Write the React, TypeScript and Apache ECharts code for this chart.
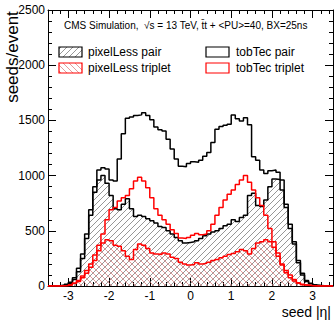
import React, { useEffect, useRef } from "react";
import * as echarts from "echarts";

// Histogram binning (70 bins of 0.1 from -3.5 to 3.5)
const BIN_LO = -3.5;
const BIN_W = 0.1;

const pixelLessPair = [
  0, 0, 2, 5, 10, 25, 60, 130, 250, 430,
  640, 850, 960, 1000, 930, 820, 700, 690, 740, 790,
  700, 630, 640, 630, 610, 590, 570, 540, 530, 500,
  470, 440, 410, 390, 395, 400, 410, 430, 455, 470,
  490, 500, 520, 545, 560, 600, 585, 620, 640, 820,
  840, 730, 720, 780, 900, 970, 965, 870, 710, 520,
  380, 210, 100, 40, 20, 10, 5, 2, 0, 0,
];

const pixelLessTriplet = [
  0, 0, 0, 2, 5, 12, 25, 40, 75, 115,
  170, 230, 320, 390, 420, 410, 370, 360, 320, 270,
  240, 330, 380, 370, 340, 300, 290, 285, 300, 290,
  260, 250, 215, 200, 190, 195, 210, 200, 205, 215,
  230, 240, 255, 270, 285, 295, 310, 330, 320, 290,
  340, 390, 400, 420, 400, 350, 270, 190, 120, 75,
  45, 25, 12, 6, 3, 0, 0, 0, 0, 0,
];

const tobTecPair = [
  0, 0, 3, 8, 15, 35, 75, 160, 290, 470,
  690, 900, 1050, 1070, 1060, 960, 950, 1150, 1380, 1520,
  1530, 1545, 1550, 1570, 1545, 1505, 1440, 1415, 1405, 1330,
  1240, 1150, 1085, 1080, 1110, 1125, 1120, 1140, 1175, 1210,
  1300, 1420, 1445, 1455, 1465, 1550, 1515, 1495, 1525, 1460,
  1170, 1140, 1050, 1020, 1045, 1050, 1030, 960, 740, 560,
  400, 230, 115, 50, 25, 12, 5, 2, 0, 0,
];

const tobTecTriplet = [
  0, 0, 0, 2, 5, 10, 25, 50, 90, 140,
  200, 280, 370, 470, 600, 690, 710, 770, 800, 820,
  880, 950, 985, 950, 890, 800, 700, 640, 600, 560,
  510, 475, 435, 430, 440, 460, 475, 465, 470, 500,
  560, 640, 710, 780, 830, 870, 920, 960, 1000, 940,
  870, 800, 730, 640, 520, 400, 300, 200, 140, 100,
  60, 30, 15, 8, 4, 2, 0, 0, 0, 0,
];

const seriesNames = ["pixelLess pair", "pixelLess triplet", "tobTec pair", "tobTec triplet"];
const headerText = "CMS Simulation,  \u221As = 13 TeV, t\u0304t + <PU>=40, BX=25ns";

const RED = "#ff0000";
const BLACK = "#000000";

function toSteps(values: number[]): [number, number][] {
  const pts: [number, number][] = values.map((v, i) => [+(BIN_LO + i * BIN_W).toFixed(2), v]);
  pts.push([+(BIN_LO + values.length * BIN_W).toFixed(2), values[values.length - 1]]);
  return pts;
}

function hatch(d: string, color: string, size: number) {
  const svg = `<svg xmlns="http://www.w3.org/2000/svg" width="${size}" height="${size}"><path d="${d}" stroke="${color}" stroke-width="0.7" fill="none"/></svg>`;
  return {
    image: "data:image/svg+xml;charset=utf-8," + encodeURIComponent(svg),
    repeat: "repeat",
    imageWidth: size,
    imageHeight: size,
  };
}

export default function App() {
  const ref = useRef<HTMLDivElement>(null);
  useEffect(() => {
    if (!ref.current) return;
    const chart = echarts.init(ref.current, undefined, { renderer: "svg" });
    const S = 6;
    const blackHatch = hatch(`M0,${S} L${S},0 M-1,1 L1,-1 M${S - 1},${S + 1} L${S + 1},${S - 1}`, "#6a6a6a", S);
    const redHatch = hatch(`M0,0 L${S},${S} M-1,${S - 1} L1,${S + 1} M${S - 1},-1 L${S + 1},1`, "#d87070", S);
    const font = "'Liberation Sans', Arial, Helvetica, sans-serif";

    const lineSeries = (name: string, data: number[], color: string) => ({
      name,
      type: "line",
      step: "end",
      data: toSteps(data),
      showSymbol: false,
      symbol: "none",
      lineStyle: { color, width: 1.5 },
      itemStyle: { color },
      silent: true,
    });
    const areaSeries = (name: string, data: number[], pattern: any) => ({
      name: name + " fill",
      type: "line",
      step: "end",
      data: toSteps(data),
      showSymbol: false,
      symbol: "none",
      lineStyle: { width: 0, opacity: 0 },
      areaStyle: { color: pattern, opacity: 1 },
      silent: true,
    });

    const xCommon = {
      type: "value",
      min: -3.5,
      max: 3.5,
      splitNumber: 7,
      splitLine: { show: false },
      axisLine: { show: true, onZero: false, lineStyle: { color: BLACK, width: 1 } },
      axisTick: { show: true, inside: true, length: 8, lineStyle: { color: BLACK } },
      minorTick: { show: true, splitNumber: 5, length: 4, lineStyle: { color: BLACK } },
    };
    const yCommon = {
      type: "value",
      min: 0,
      max: 2500,
      interval: 500,
      splitLine: { show: false },
      axisLine: { show: true, onZero: false, lineStyle: { color: BLACK, width: 1 } },
      axisTick: { show: true, inside: true, length: 8, lineStyle: { color: BLACK } },
      minorTick: { show: true, splitNumber: 5, length: 4, lineStyle: { color: BLACK } },
    };

    const legendBox = (x: number, y: number, fill: any, stroke: string) => ({
      type: "rect",
      shape: { x, y, width: 23, height: 10 },
      style: { fill, stroke, lineWidth: 1.2 },
      silent: true,
    });
    const legendText = (x: number, y: number, text: string) => ({
      type: "text",
      x,
      y,
      style: { text, fontSize: 12, fontFamily: font, fill: BLACK, textVerticalAlign: "middle", textAlign: "left" },
      silent: true,
    });

    chart.setOption({
      animation: false,
      grid: { left: 48, right: 2, top: 10, bottom: 34, containLabel: false },
      xAxis: [
        {
          ...xCommon,
          position: "bottom",
          axisLabel: {
            show: true,
            fontSize: 12,
            fontFamily: font,
            color: BLACK,
            margin: 4,
            showMinLabel: false,
            showMaxLabel: false,
            formatter: (v: number) => String(v),
          },
        },
        { ...xCommon, position: "top", axisLabel: { show: false } },
      ],
      yAxis: [
        {
          ...yCommon,
          position: "left",
          axisLabel: {
            show: true,
            fontSize: 12,
            fontFamily: font,
            color: BLACK,
            margin: 3,
            formatter: (v: number) => String(v),
          },
        },
        { ...yCommon, position: "right", axisLabel: { show: false } },
      ],
      series: [
        areaSeries(seriesNames[1], pixelLessTriplet, redHatch),
        areaSeries(seriesNames[0], pixelLessPair, blackHatch),
        lineSeries(seriesNames[0], pixelLessPair, BLACK),
        lineSeries(seriesNames[2], tobTecPair, BLACK),
        lineSeries(seriesNames[1], pixelLessTriplet, RED),
        lineSeries(seriesNames[3], tobTecTriplet, RED),
      ],
      graphic: [
        {
          type: "text",
          x: 64,
          y: 25,
          style: { text: headerText, fontSize: 10, fontFamily: font, fill: BLACK, textVerticalAlign: "middle" },
          silent: true,
        },
        legendBox(59, 47, blackHatch, BLACK),
        legendText(88, 52, seriesNames[0]),
        legendBox(59, 63, redHatch, RED),
        legendText(88, 68, seriesNames[1]),
        legendBox(206, 47, "#ffffff", BLACK),
        legendText(236, 52, seriesNames[2]),
        legendBox(206, 63, "#ffffff", RED),
        legendText(236, 68, seriesNames[3]),
        {
          type: "text",
          x: 12,
          y: 57,
          rotation: Math.PI / 2,
          style: {
            text: "seeds/event",
            fontSize: 17,
            fontFamily: font,
            fill: BLACK,
            textAlign: "center",
            textVerticalAlign: "middle",
          },
          silent: true,
        },
        {
          type: "text",
          x: 331,
          y: 312,
          style: {
            text: "seed |\u03B7|",
            fontSize: 14,
            fontFamily: font,
            fill: BLACK,
            textAlign: "right",
            textVerticalAlign: "middle",
          },
          silent: true,
        },
      ],
    });
    return () => chart.dispose();
  }, []);
  return (
    <div
      ref={ref}
      style={{ position: "absolute", left: 0, top: 0, width: 335, height: 320, background: "#ffffff" }}
    />
  );
}
